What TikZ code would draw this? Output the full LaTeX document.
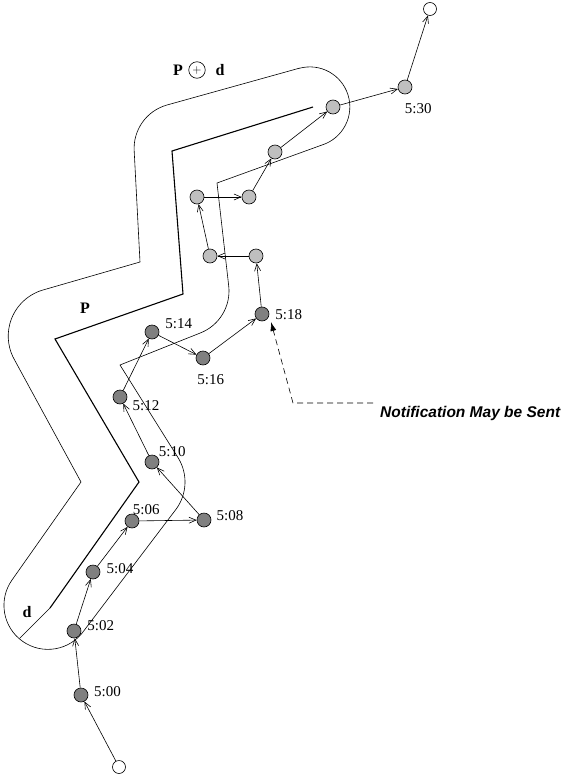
\documentclass[tikz,border=0pt]{standalone}
\usepackage{fontspec}
\setmainfont{Liberation Serif}
\newfontfamily\notefont{Liberation Sans}
\usetikzlibrary{arrows.meta}
\definecolor{nodedark}{gray}{0.5}
\definecolor{nodelight}{gray}{0.75}
\begin{document}
\begin{tikzpicture}[x=1pt,y=-1pt,
  dark/.style={circle, draw, fill=nodedark, minimum size=14pt, inner sep=0pt, line width=0.6pt},
  light/.style={circle, draw, fill=nodelight, minimum size=14pt, inner sep=0pt, line width=0.6pt},
  endpt/.style={circle, draw, fill=white, minimum size=13pt, inner sep=0pt, line width=0.6pt},
  tlabel/.style={font=\fontsize{15}{15}\selectfont, inner sep=0pt},
  blabel/.style={font=\bfseries\fontsize{16}{16}\selectfont, inner sep=0pt},
  move/.style={-{Straight Barb[length=7pt,width=6pt]}, line width=0.6pt},
  buffer/.style={line width=0.6pt},
  pathP/.style={line width=1.1pt}]
\useasboundingbox (0,0) rectangle (560,779);

% buffer P (+) d
\draw[buffer] (300,68) -- (167,105)
  arc[start angle=254.4, end angle=176, radius=45] -- (140,262) -- (43,290)
  arc[start angle=254, end angle=149.5, radius=48] -- (81,482) -- (12,580)
  arc[start angle=215.2, end angle=35.2, radius=44] -- (176.6,508.5)
  arc[start angle=35.2, end angle=-30.5, radius=46] -- (120,365) -- (200.2,333)
  arc[start angle=68.9, end angle=-6.5, radius=45] -- (217,183) -- (322,145)
  arc[start angle=72.3, end angle=-105, radius=40] -- cycle;
% path P
\draw[pathP] (313,107) -- (172,151) -- (183,294) -- (55,339) -- (139,482) -- (50,608);
% radius d
\draw[buffer] (50,608) -- (19.5,638.5);

% labels of regions
\node[blabel] (lP1) at (178,70) {P};
\node[circle, draw, line width=0.6pt, minimum size=16.5pt, inner sep=0pt, font=\fontsize{13}{13}\selectfont] (lop) at (197,70) {$+$};
\node[blabel] (ld1) at (220,70) {d};
\node[blabel] (lP) at (85,308) {P};
\node[blabel] (ld) at (27,612) {d};

% positions
\node[endpt] (start) at (119,767) {};
\node[dark] (t00) at (81,695) {};
\node[dark] (t02) at (74,631) {};
\node[dark] (t04) at (93,572) {};
\node[dark] (t06) at (132,521) {};
\node[dark] (t08) at (204,520) {};
\node[dark] (t10) at (152,462) {};
\node[dark] (t12) at (120,397) {};
\node[dark] (t14) at (152,332) {};
\node[dark] (t16) at (203,358) {};
\node[dark] (t18) at (262,314) {};
\node[light] (u1) at (256,256) {};
\node[light] (u2) at (210,256) {};
\node[light] (u3) at (197,197) {};
\node[light] (u4) at (249,197) {};
\node[light] (u5) at (275,152) {};
\node[light] (u6) at (333,107) {};
\node[light] (t30) at (405,87) {};
\node[endpt] (finish) at (430,9) {};

% time labels
\node[tlabel] (l00) at (107.5,691.3) {5:00};
\node[tlabel] (l02) at (100.7,626) {5:02};
\node[tlabel] (l04) at (120,568.5) {5:04};
\node[tlabel] (l06) at (146.3,509.5) {5:06};
\node[tlabel] (l08) at (230,516) {5:08};
\node[tlabel] (l10) at (172.3,451.3) {5:10};
\node[tlabel] (l12) at (146,406) {5:12};
\node[tlabel] (l14) at (178.7,323.3) {5:14};
\node[tlabel] (l16) at (210.7,379.5) {5:16};
\node[tlabel] (l18) at (288.7,315) {5:18};
\node[tlabel] (l30) at (418.3,108.7) {5:30};

% movement
\foreach \a/\b in {start/t00, t00/t02, t02/t04, t04/t06, t06/t08, t08/t10, t10/t12,
  t12/t14, t14/t16, t16/t18, t18/u1, u1/u2, u2/u3, u3/u4, u4/u5, u5/u6, u6/t30, t30/finish}
  \draw[move] (\a) -- (\b);

% notification
\node[font=\notefont\bfseries\itshape\fontsize{15.5}{15.5}\selectfont, anchor=base west, inner sep=0pt] (note) at (380,417) {Notification May be Sent};
\coordinate (nstart) at (373,403);
\coordinate (nbend) at (293,403);
\coordinate (ntip) at (271,322);
\draw[dash pattern=on 6pt off 4pt, line width=0.6pt, -{Latex[length=9pt,width=6pt]}] (nstart) -- (nbend) -- (ntip);
\end{tikzpicture}
\end{document}
